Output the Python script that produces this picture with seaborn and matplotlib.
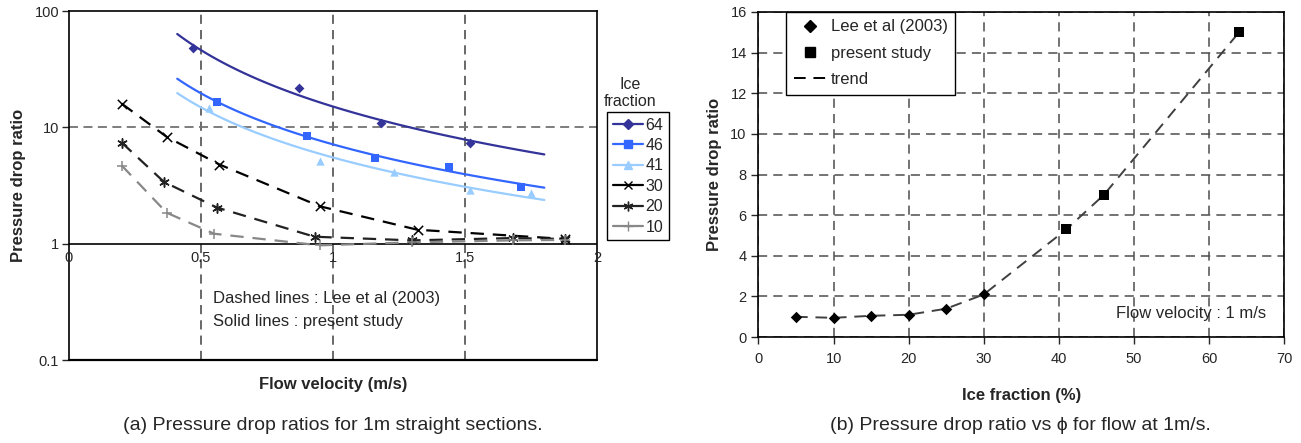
import numpy as np
import pandas as pd
import matplotlib
matplotlib.use('Agg')
import matplotlib.pyplot as plt
from matplotlib.lines import Line2D
from matplotlib.ticker import FixedLocator, FixedFormatter
import seaborn as sns

# ---- data (a): pressure drop ratio vs flow velocity ----
# present study (solid power trendlines)
v64 = [0.47, 0.87, 1.18, 1.52]
p64 = [48, 22, 11, 7.4]
v46 = [0.56, 0.90, 1.16, 1.44, 1.71]
p46 = [16.5, 8.5, 5.5, 4.6, 3.1]
v41 = [0.53, 0.95, 1.23, 1.52, 1.75]
p41 = [14.8, 5.1, 4.15, 2.9, 2.75]
# Lee et al (2003) (dashed lines)
v30 = [0.20, 0.37, 0.57, 0.95, 1.32, 1.88]
p30 = [16.0, 8.3, 4.8, 2.1, 1.32, 1.10]
v20 = [0.20, 0.36, 0.56, 0.93, 1.30, 1.68, 1.88]
p20 = [7.4, 3.4, 2.05, 1.15, 1.07, 1.12, 1.10]
v10 = [0.20, 0.37, 0.55, 0.95, 1.30, 1.68, 1.88]
p10 = [4.7, 1.85, 1.22, 0.97, 1.03, 1.07, 1.08]
trend_range = [0.41, 1.8]

# ---- data (b): pressure drop ratio vs ice fraction at 1 m/s ----
lee_phi = [5, 10, 15, 20, 25, 30]
lee_ratio = [1.0, 0.95, 1.05, 1.1, 1.4, 2.1]
ps_phi = [41, 46, 64]
ps_ratio = [5.3, 7.0, 15.0]

sns.set_theme(style='white')
plt.rcParams['font.family'] = ['Liberation Sans', 'DejaVu Sans']
plt.rcParams['axes.edgecolor'] = 'black'
plt.rcParams['axes.linewidth'] = 1.2

TICK = 10
TXT = 12

fig = plt.figure(figsize=(13.01, 4.43), dpi=100)
ax1 = fig.add_axes([0.053, 0.187, 0.406, 0.788])
ax2 = fig.add_axes([0.583, 0.239, 0.404, 0.734])

# ---------------- panel (a) ----------------
ax1.set_yscale('log')
ax1.set_xlim(0, 2)
ax1.set_ylim(0.1, 100)

grid_kw = dict(color='0.25', lw=1.1, ls=(0, (6, 4)), zorder=0)
for gx in [0.5, 1.0, 1.5]:
    ax1.axvline(gx, **grid_kw)
ax1.axhline(10, color='0.45', lw=1.3, ls=(0, (5, 3)), zorder=0)
ax1.axhline(1, color='black', lw=1.2, zorder=1)

present = [('64', v64, p64, '#333399', 'D', 5),
           ('46', v46, p46, '#3366FF', 's', 6),
           ('41', v41, p41, '#99CCFF', '^', 6)]
for name, vx, py, col, mk, ms in present:
    b, lna = np.polyfit(np.log(vx), np.log(py), 1)
    xs = np.linspace(trend_range[0], trend_range[1], 100)
    sns.lineplot(x=xs, y=np.exp(lna) * xs ** b, color=col, lw=1.6, ax=ax1)
    sns.scatterplot(x=vx, y=py, color=col, marker=mk, s=ms ** 2, edgecolor=col,
                    linewidth=0, ax=ax1, zorder=3)

lee = [('30', v30, p30, 'black', 'x'),
       ('20', v20, p20, '#222222', (6, 2, 0)),
       ('10', v10, p10, '#888888', '+')]
for name, vx, py, col, mk in lee:
    sns.lineplot(x=vx, y=py, color=col, lw=1.6, ax=ax1, sort=False,
                 estimator=None)
    ax1.lines[-1].set_dashes((6, 4))
    sns.scatterplot(x=vx, y=py, color=col, marker=mk, s=45, linewidth=1.1,
                    ax=ax1, zorder=3)

ax1.spines['bottom'].set_visible(False)
ax1.axhline(0.1, color='black', lw=1.6, clip_on=False)
ax1.yaxis.set_major_locator(FixedLocator([0.1, 1, 10, 100]))
ax1.yaxis.set_major_formatter(FixedFormatter(['0.1', '1', '10', '100']))
ax1.yaxis.set_minor_locator(FixedLocator([]))
ax1.tick_params(axis='y', left=True, length=5, width=1, labelsize=TICK + 0.5, pad=2)
ax1.set_xticks([])
for xv, lab in zip([0, 0.5, 1, 1.5, 2], ['0', '0.5', '1', '1.5', '2']):
    ax1.text(xv, 0.76, lab, ha='center', va='center', fontsize=TICK + 0.5)

ax1.text(0.545, 0.342, 'Dashed lines : Lee et al (2003)', fontsize=TXT, va='center')
ax1.text(0.545, 0.217, 'Solid lines : present study', fontsize=TXT, va='center')

ax1.set_ylabel('Pressure drop ratio', fontsize=TXT, fontweight='bold')
ax1.yaxis.set_label_coords(-0.082, 0.5)
ax1.set_xlabel('')
fig.text(333 / 1301, 1 - 384 / 443, 'Flow velocity (m/s)', ha='center', va='center',
         fontsize=TXT, fontweight='bold')

handles = [
    Line2D([], [], color='#333399', marker='D', ms=5, lw=1.6),
    Line2D([], [], color='#3366FF', marker='s', ms=6, lw=1.6),
    Line2D([], [], color='#99CCFF', marker='^', ms=6, lw=1.6),
    Line2D([], [], color='black', marker='x', ms=6, lw=1.6),
    Line2D([], [], color='#222222', marker=(6, 2, 0), ms=7, lw=1.6),
    Line2D([], [], color='#888888', marker='+', ms=7, lw=1.6),
]
leg1 = fig.legend(handles, ['64', '46', '41', '30', '20', '10'], loc='upper left',
                  bbox_to_anchor=(607 / 1301, 1 - 112 / 443), fontsize=11.5,
                  frameon=True, fancybox=False, edgecolor='black', framealpha=1,
                  handlelength=1.9, handletextpad=0.15, borderpad=0.35,
                  labelspacing=0.34, borderaxespad=0)
leg1.get_frame().set_linewidth(1.0)
fig.text(630 / 1301, 1 - 93 / 443, 'Ice\nfraction', ha='center', va='center',
         fontsize=11.5, linespacing=1.15)

# ---------------- panel (b) ----------------
ax2.set_xlim(0, 70)
ax2.set_ylim(0, 16)
ax2.set_xticks(range(0, 71, 10))
ax2.set_yticks(range(0, 17, 2))
ax2.grid(True, color='0.3', lw=1.1, ls=(0, (6, 4)))
ax2.set_axisbelow(True)
for s in ax2.spines.values():
    s.set_color('black')
ax2.tick_params(axis='both', length=5, width=1, labelsize=TICK + 0.5, bottom=True,
                left=True)
ax2.tick_params(axis='x', pad=6)

trend = pd.DataFrame({'phi': lee_phi + ps_phi, 'ratio': lee_ratio + ps_ratio})
sns.lineplot(data=trend, x='phi', y='ratio', color='0.25', lw=1.4, ax=ax2,
             estimator=None)
ax2.lines[-1].set_dashes((6, 4))
sns.scatterplot(x=lee_phi, y=lee_ratio, marker='D', color='black', s=34,
                linewidth=0, ax=ax2, zorder=3)
sns.scatterplot(x=ps_phi, y=ps_ratio, marker='s', color='black', s=44,
                linewidth=0, ax=ax2, zorder=3)

ax2.text(67.6, 1.18, 'Flow velocity : 1 m/s', ha='right', va='center', fontsize=TXT)
ax2.set_xlabel('Ice fraction (%)', fontsize=TXT, fontweight='bold')
ax2.xaxis.set_label_coords(0.5, -0.155)
ax2.set_ylabel('Pressure drop ratio', fontsize=TXT, fontweight='bold')
ax2.yaxis.set_label_coords(-0.069, 0.5)

h2 = [Line2D([], [], color='black', marker='D', ms=6, lw=0),
      Line2D([], [], color='black', marker='s', ms=6.5, lw=0),
      Line2D([], [], color='black', lw=1.4, dashes=(6, 4))]
leg2 = ax2.legend(h2, ['Lee et al (2003)', 'present study', 'trend'], loc='upper left',
                  bbox_to_anchor=(0.053, 1.0), fontsize=TXT, frameon=True,
                  fancybox=False, edgecolor='black', framealpha=1,
                  handlelength=1.9, handletextpad=0.3, borderpad=0.45,
                  labelspacing=0.68, borderaxespad=0)
leg2.get_frame().set_linewidth(1.0)

fig.text(333 / 1301, 1 - 425 / 443, '(a) Pressure drop ratios for 1m straight sections.',
         ha='center', va='center', fontsize=14)
fig.text(1020 / 1301, 1 - 425 / 443, '(b) Pressure drop ratio vs \u03d5 for flow at 1m/s.',
         ha='center', va='center', fontsize=14)

fig.savefig('out.png', dpi=100)
